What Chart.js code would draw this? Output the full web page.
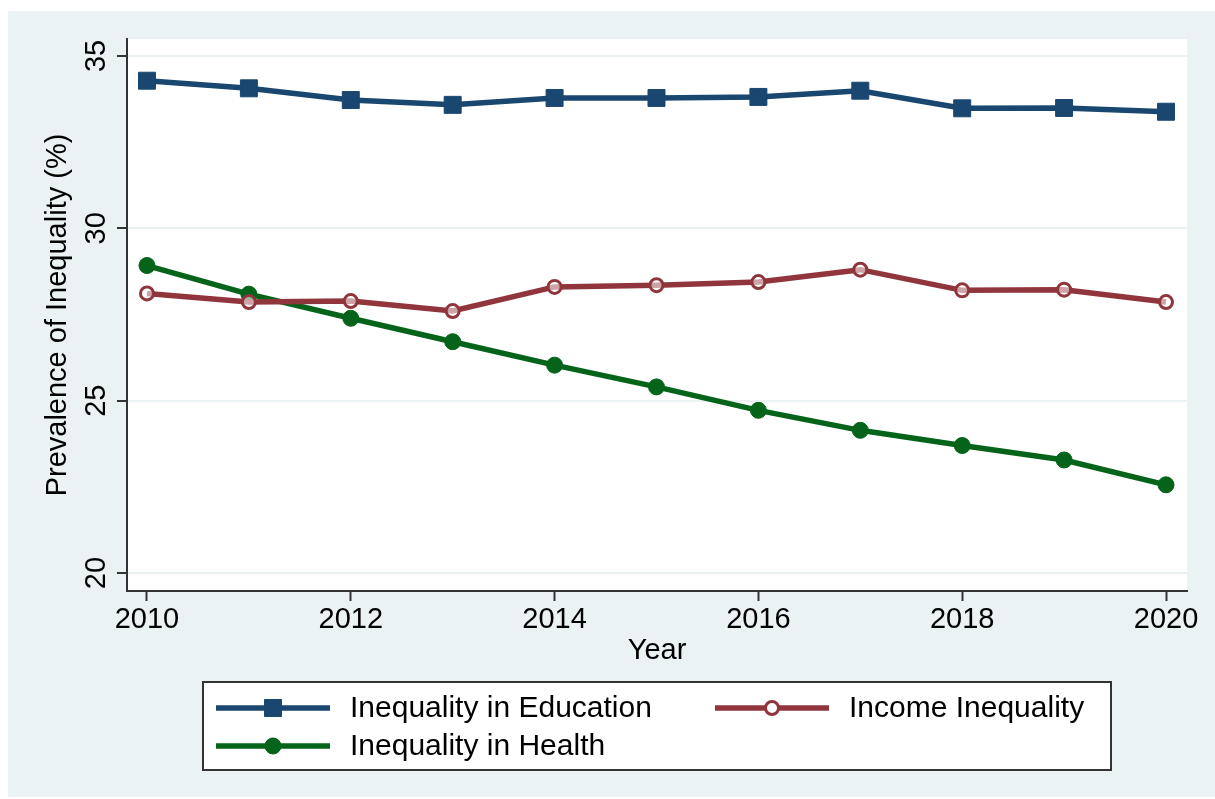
<!DOCTYPE html>
<html>
<head>
<meta charset="utf-8">
<script src="https://cdn.jsdelivr.net/npm/chart.js@4.4.1/dist/chart.umd.min.js"></script>
<style>
  html, body { margin: 0; padding: 0; background: #ffffff; }
  #wrap { position: absolute; left: 8px; top: 11px; width: 1207px; height: 786px; background: #eaf2f3; }
</style>
</head>
<body>
<div id="wrap"><canvas id="ineqChart"></canvas></div>
<script>
var years = [2010, 2011, 2012, 2013, 2014, 2015, 2016, 2017, 2018, 2019, 2020];
var education = [34.28, 34.06, 33.72, 33.58, 33.78, 33.78, 33.81, 33.99, 33.48, 33.49, 33.38];
var income = [28.11, 27.86, 27.89, 27.60, 28.30, 28.35, 28.44, 28.80, 28.20, 28.22, 27.86];
var health = [28.92, 28.09, 27.39, 26.71, 26.03, 25.40, 24.72, 24.14, 23.70, 23.28, 22.56];
var xTicks = [2010, 2012, 2014, 2016, 2018, 2020];
var yTicks = [20, 25, 30, 35];

var FONT = 'Liberation Sans, Arial, Helvetica, sans-serif';

function toPoints(vals) {
    return years.map(function (y, i) { return { x: y, y: vals[i] }; });
}

// white plot region
var plotBg = {
    id: 'plotBg',
    beforeDraw: function (chart) {
        var a = chart.chartArea, ctx = chart.ctx;
        ctx.save();
        ctx.fillStyle = '#ffffff';
        ctx.fillRect(a.left, a.top, a.right - a.left, a.bottom - a.top);
        ctx.restore();
    }
};

// Stata style boxed legend under the plot
var boxLegend = {
    id: 'boxLegend',
    afterDraw: function (chart) {
        var ctx = chart.ctx, a = chart.chartArea;
        var w = 908, h = 88;
        var left = (a.left + a.right) / 2 - w / 2;
        var top = chart.height - 27 - h;
        ctx.save();
        ctx.fillStyle = '#ffffff';
        ctx.fillRect(left, top, w, h);
        ctx.strokeStyle = '#333333';
        ctx.lineWidth = 2;
        ctx.strokeRect(left, top, w, h);
        var slots = [
            { dx: 13, dy: 26 },
            { dx: 512, dy: 26 },
            { dx: 13, dy: 64 }
        ];
        chart.data.datasets.forEach(function (ds, i) {
            var s = slots[i];
            var x0 = left + s.dx, y0 = top + s.dy;
            ctx.strokeStyle = ds.borderColor;
            ctx.lineWidth = ds.borderWidth;
            ctx.beginPath();
            ctx.moveTo(x0, y0);
            ctx.lineTo(x0 + 114, y0);
            ctx.stroke();
            ctx.fillStyle = ds.legendFill || ds.pointBackgroundColor;
            ctx.strokeStyle = ds.pointBorderColor;
            ctx.lineWidth = ds.pointBorderWidth;
            Chart.helpers.drawPoint(ctx, {
                pointStyle: ds.pointStyle,
                radius: ds.pointRadius,
                rotation: 0,
                borderWidth: ds.pointBorderWidth
            }, x0 + 57, y0);
            ctx.fillStyle = '#000000';
            ctx.font = '30px ' + FONT;
            ctx.textBaseline = 'middle';
            ctx.textAlign = 'left';
            ctx.fillText(ds.label, x0 + 134, y0 + 1);
        });
        ctx.restore();
    }
};

var ctx = document.getElementById('ineqChart').getContext('2d');
var chart = new Chart(ctx, {
    type: 'line',
    data: {
        datasets: [
            {
                label: 'Inequality in Education',
                data: toPoints(education),
                borderColor: '#1a476f',
                backgroundColor: '#1a476f',
                borderWidth: 5.5,
                pointStyle: 'rect',
                pointRadius: 12,
                pointBackgroundColor: '#1a476f',
                pointBorderColor: '#1a476f',
                pointBorderWidth: 1
            },
            {
                label: 'Income Inequality',
                data: toPoints(income),
                borderColor: '#90353b',
                backgroundColor: '#90353b',
                borderWidth: 5.5,
                pointStyle: 'circle',
                pointRadius: 6.5,
                pointBackgroundColor: 'rgba(255,255,255,0.55)',
                legendFill: '#ffffff',
                pointBorderColor: '#90353b',
                pointBorderWidth: 3
            },
            {
                label: 'Inequality in Health',
                data: toPoints(health),
                borderColor: '#05641a',
                backgroundColor: '#05641a',
                borderWidth: 5.5,
                pointStyle: 'circle',
                pointRadius: 8,
                pointBackgroundColor: '#05641a',
                pointBorderColor: '#05641a',
                pointBorderWidth: 1
            }
        ]
    },
    options: {
        responsive: true,
        maintainAspectRatio: false,
        animation: false,
        layout: { padding: { left: 0, top: 28, right: 28, bottom: 126 } },
        plugins: {
            legend: { display: false },
            tooltip: { enabled: false }
        },
        scales: {
            x: {
                type: 'linear',
                min: 2009.804,
                max: 2020.206,
                afterBuildTicks: function (s) { s.ticks = xTicks.map(function (v) { return { value: v }; }); },
                afterFit: function (s) { s.height = 80; },
                ticks: {
                    color: '#000000',
                    font: { family: FONT, size: 29 },
                    padding: 2,
                    maxRotation: 0,
                    callback: function (v) { return String(v); }
                },
                grid: { drawOnChartArea: false, tickLength: 10, tickColor: '#333333', tickWidth: 2 },
                border: { color: '#333333', width: 2 },
                title: {
                    display: true,
                    text: 'Year',
                    color: '#000000',
                    font: { family: FONT, size: 29 },
                    padding: { top: 0, bottom: 3 }
                }
            },
            y: {
                min: 19.48,
                max: 35.49,
                afterBuildTicks: function (s) { s.ticks = yTicks.map(function (v) { return { value: v }; }); },
                afterFit: function (s) { s.width = 119; },
                ticks: {
                    color: '#000000',
                    font: { family: FONT, size: 29 },
                    padding: 4,
                    minRotation: 90,
                    maxRotation: 90,
                    crossAlign: 'center'
                },
                grid: { color: '#eaf2f3', lineWidth: 2, tickLength: 10, tickColor: '#333333', tickWidth: 2 },
                border: { color: '#333333', width: 2 },
                title: {
                    display: true,
                    text: 'Prevalence of Inequality (%)',
                    color: '#000000',
                    font: { family: FONT, size: 29 },
                    padding: { top: 33, bottom: 0 }
                }
            }
        }
    },
    plugins: [plotBg, boxLegend]
});
</script>
</body>
</html>
